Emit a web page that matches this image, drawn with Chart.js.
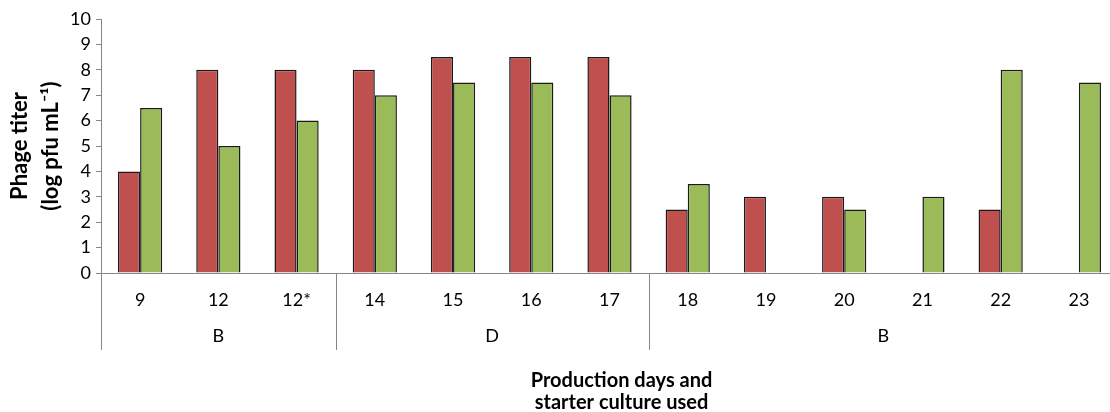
<!DOCTYPE html>
<html>
<head>
<meta charset="utf-8">
<script src="https://cdn.jsdelivr.net/npm/chart.js@4/dist/chart.umd.min.js"></script>
<style>
  html, body { margin: 0; padding: 0; background: #fff; overflow: hidden; }
  #wrap { width: 1118px; height: 412px; }
</style>
</head>
<body>
<div id="wrap"><canvas id="titerChart"></canvas></div>
<script>
// Production days and the starter culture used on each day
const days = ['9', '12', '12*', '14', '15', '16', '17', '18', '19', '20', '21', '22', '23'];
const cultures = ['B', 'B', 'B', 'D', 'D', 'D', 'D', 'B', 'B', 'B', 'B', 'B', 'B'];

// Phage titer (log pfu/mL), two series
const redTiter = [4, 8, 8, 8, 8.5, 8.5, 8.5, 2.5, 3, 3, null, 2.5, null];
const greenTiter = [6.5, 5, 6, 7, 7.5, 7.5, 7, 3.5, null, 2.5, 3, 8, 7.5];

const yTicks = [0, 1, 2, 3, 4, 5, 6, 7, 8, 9, 10];

const fontName = 'Lato, "Open Sans", sans-serif';
const axisGrey = '#868686';

// Draws the culture group row, its separators and the x axis title
const groupRow = {
    id: 'groupRow',
    afterDraw(chart) {
        const ctx = chart.ctx;
        const x = chart.scales.x;
        const area = chart.chartArea;
        const step = x.getPixelForValue(1) - x.getPixelForValue(0);

        ctx.save();
        ctx.strokeStyle = axisGrey;
        ctx.lineWidth = 1;
        ctx.fillStyle = '#000';
        ctx.font = '18px ' + fontName;
        ctx.textAlign = 'center';
        ctx.textBaseline = 'middle';

        let start = 0;
        for (let i = 1; i <= cultures.length; i++) {
            if (i === cultures.length || cultures[i] !== cultures[start]) {
                const left = x.getPixelForValue(start) - step / 2;
                const right = x.getPixelForValue(i - 1) + step / 2;
                ctx.beginPath();
                ctx.moveTo(Math.round(left) + 0.5, area.bottom);
                ctx.lineTo(Math.round(left) + 0.5, area.bottom + 77);
                ctx.stroke();
                ctx.fillText(cultures[start], (left + right) / 2, area.bottom + 63);
                start = i;
            }
        }

        ctx.font = 'bold 20px ' + fontName;
        const cx = (area.left + area.right) / 2 + 12;
        ctx.fillText('Production days and', cx, 381);
        ctx.fillText('starter culture used', cx, 403);
        ctx.restore();
    }
};

new Chart(document.getElementById('titerChart'), {
    type: 'bar',
    data: {
        labels: days,
        datasets: [{
            data: redTiter,
            backgroundColor: '#C0504D',
            borderColor: '#1a1a1a',
            borderWidth: 1.5
        }, {
            data: greenTiter,
            backgroundColor: '#9BBB59',
            borderColor: '#1a1a1a',
            borderWidth: 1.5
        }]
    },
    options: {
        responsive: true,
        maintainAspectRatio: false,
        animation: false,
        layout: { padding: { top: 19, right: 0, bottom: 0, left: 0 } },
        datasets: {
            bar: { categoryPercentage: 0.565, barPercentage: 1 }
        },
        plugins: {
            legend: { display: false },
            tooltip: { enabled: false }
        },
        scales: {
            x: {
                grid: { display: false },
                border: { color: axisGrey, width: 1 },
                ticks: {
                    color: '#000',
                    padding: 8,
                    maxRotation: 0,
                    autoSkip: false,
                    font: { family: fontName, size: 18 }
                },
                afterFit(scale) { scale.height = 139; }
            },
            y: {
                min: 0,
                max: 10,
                afterBuildTicks(scale) { scale.ticks = yTicks.map(v => ({ value: v })); },
                grid: { drawOnChartArea: false, drawTicks: true, tickLength: 5, color: axisGrey },
                border: { color: axisGrey, width: 1 },
                ticks: {
                    color: '#000',
                    padding: 5,
                    font: { family: fontName, size: 18 }
                },
                title: {
                    display: true,
                    text: ['Phage titer', '(log pfu mL\u207B\u00B9)'],
                    color: '#000',
                    padding: { top: 5, bottom: 0 },
                    font: { family: fontName, size: 22, weight: 'bold', lineHeight: 1.4 }
                },
                afterFit(scale) { scale.width = 101; }
            }
        }
    },
    plugins: [groupRow]
});
</script>
</body>
</html>
